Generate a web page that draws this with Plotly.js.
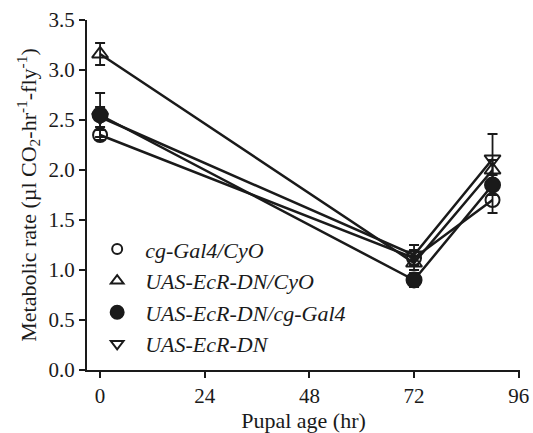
<!DOCTYPE html>
<html>
<head>
<meta charset="utf-8">
<script src="https://cdn.plot.ly/plotly-3.0.1.min.js"></script>
<style>html,body{margin:0;padding:0;background:#fff}#chart{width:533px;height:433px}</style>
</head>
<body>
<div id="chart"></div>
<script>
const pupalAge = [0, 72, 90];
const xTicks = [0, 24, 48, 72, 96];
const seriesNames = ['cg-Gal4/CyO', 'UAS-EcR-DN/CyO', 'UAS-EcR-DN/cg-Gal4', 'UAS-EcR-DN'];
const cgGal4CyO = [2.35, 1.12, 1.70];
const cgGal4CyOErr = [0.05, 0.08, 0.13];
const uasCyO = [3.16, 1.07, 2.00];
const uasCyOErr = [0.11, 0.07, 0.10];
const uasCgGal4 = [2.55, 0.90, 1.85];
const uasCgGal4Err = [0.22, 0.07, 0.10];
const uasDN = [2.53, 1.15, 2.11];
const uasDNErr = [0.10, 0.10, 0.25];

const symbols = ['circle-open', 'triangle-up-open', 'circle', 'triangle-down-open'];
const legendSizes = [10, 11, 13, 11];
const values = [cgGal4CyO, uasCyO, uasCgGal4, uasDN];
const errs = [cgGal4CyOErr, uasCyOErr, uasCgGal4Err, uasDNErr];
const drawOrder = [0, 1, 3, 2];

const traces = [];
drawOrder.forEach(i => {
  traces.push({
    x: pupalAge, y: values[i], name: seriesNames[i],
    mode: 'lines+markers', showlegend: false,
    line: {color: '#1a1a1a', width: 2.5},
    marker: {symbol: symbols[i], size: i === 2 ? 15 : 14, color: '#1a1a1a', line: {color: '#1a1a1a', width: 2}},
    error_y: {type: 'data', array: errs[i], visible: true, color: '#1a1a1a', thickness: 1.8, width: 5},
    cliponaxis: false
  });
});
[0, 1, 2, 3].forEach(i => {
  traces.push({
    x: [null], y: [null], name: seriesNames[i], mode: 'markers',
    legendrank: i + 1,
    marker: {symbol: symbols[i], size: legendSizes[i], color: '#1a1a1a', line: {color: '#1a1a1a', width: 2}}
  });
});

const font = {family: '"Liberation Serif", "Times New Roman", serif', color: '#1a1a1a'};
const layout = {
  width: 533, height: 433,
  margin: {l: 87, r: 13, t: 20, b: 63},
  paper_bgcolor: '#fff', plot_bgcolor: '#fff',
  font: Object.assign({size: 21}, font),
  showlegend: true,
  legend: {
    x: 0.005, y: 0.405, xanchor: 'left', yanchor: 'top', traceorder: 'normal',
    bgcolor: 'rgba(0,0,0,0)', itemwidth: 46,
    font: Object.assign({size: 22, style: 'italic'}, font)
  },
  xaxis: {
    range: [-3, 96.3], tickvals: xTicks, ticktext: xTicks.map(String),
    showgrid: false, zeroline: false, showline: true, linecolor: '#1a1a1a', linewidth: 2,
    ticks: 'outside', ticklen: 6, tickwidth: 2, tickcolor: '#1a1a1a',
    tickfont: Object.assign({size: 21}, font),
    title: {text: 'Pupal age (hr)', font: Object.assign({size: 22}, font), standoff: 6}
  },
  yaxis: {
    range: [0, 3.5], dtick: 0.5, tickformat: '.1f',
    showgrid: false, zeroline: false, showline: true, linecolor: '#1a1a1a', linewidth: 2,
    ticks: 'outside', ticklen: 6, tickwidth: 2, tickcolor: '#1a1a1a',
    tickfont: Object.assign({size: 21}, font),
    title: {text: 'Metabolic rate (\u00b5l CO<sub>2</sub>-hr<sup>-1</sup>-fly<sup>-1</sup>)', font: Object.assign({size: 22}, font), standoff: 6}
  }
};
Plotly.newPlot('chart', traces, layout, {displayModeBar: false, staticPlot: true});
</script>
</body>
</html>
